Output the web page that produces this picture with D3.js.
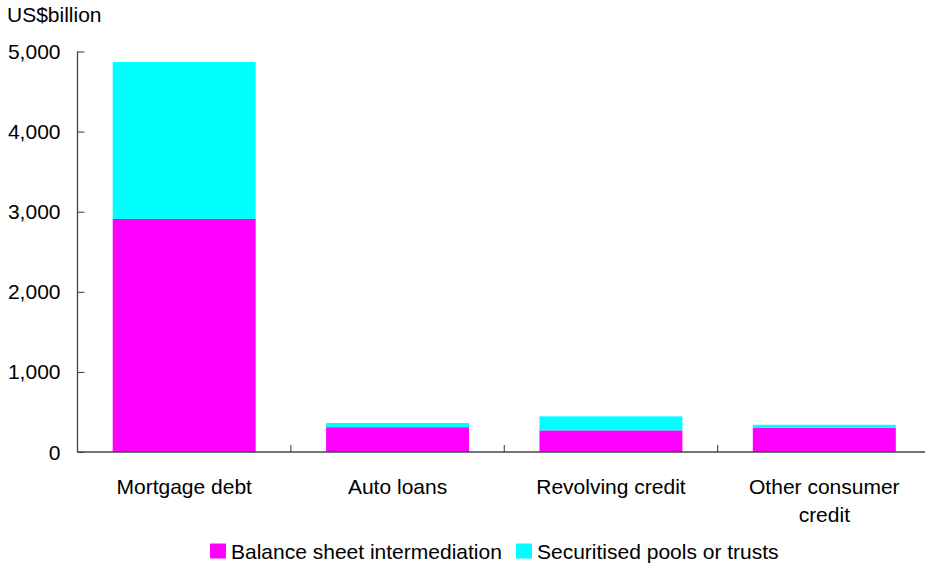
<!DOCTYPE html>
<html>
<head>
<meta charset="utf-8">
<script src="https://cdn.jsdelivr.net/npm/d3@7"></script>
<style>
  body { margin: 0; background: #fff; }
  text { font-family: "Liberation Sans", Arial, sans-serif; fill: #000; }
</style>
</head>
<body>
<svg id="chart"></svg>
<script>
// Data
const categories = [['Mortgage debt'], ['Auto loans'], ['Revolving credit'], ['Other consumer', 'credit']];
const balanceSheet = [2910, 310, 270, 305];
const securitised = [1960, 52, 175, 35];
const seriesNames = ['Balance sheet intermediation', 'Securitised pools or trusts'];
const seriesColors = ['#ff00ff', '#00ffff'];
const yTicks = [0, 1000, 2000, 3000, 4000, 5000];

const width = 925, height = 564;
const margin = { top: 51.5, right: -6, bottom: 112, left: 77.5 };
const innerW = width - margin.left - margin.right;
const innerH = height - margin.top - margin.bottom;
const fontSize = 21;

const svg = d3.select('#chart')
    .attr('width', width)
    .attr('height', height);

const chart = svg.append('g')
    .attr('transform', `translate(${margin.left},${margin.top})`);

// Scales
const x = d3.scaleBand()
    .domain(d3.range(categories.length))
    .range([0, innerW])
    .paddingInner(0.33)
    .paddingOuter(0.165);

const y = d3.scaleLinear()
    .domain([0, 5000])
    .range([innerH, 0]);

// Stack the series
const rows = categories.map((c, i) => ({ i: i, s0: balanceSheet[i], s1: securitised[i] }));
const stacked = d3.stack().keys(['s0', 's1'])(rows);

chart.selectAll('.series')
    .data(stacked)
  .join('g')
    .attr('class', 'series')
    .attr('fill', (d, i) => seriesColors[i])
  .selectAll('rect')
    .data(d => d)
  .join('rect')
    .attr('x', d => x(d.data.i))
    .attr('y', d => y(d[1]))
    .attr('width', x.bandwidth())
    .attr('height', d => y(d[0]) - y(d[1]));

// Y axis
const yAxis = d3.axisRight(y)
    .tickValues(yTicks)
    .tickSize(7)
    .tickFormat('');

chart.append('g')
    .call(yAxis)
    .call(g => g.select('.domain').remove())
    .call(g => g.selectAll('line').attr('stroke', '#333'));

chart.append('line')
    .attr('x1', 0).attr('x2', 0)
    .attr('y1', 0).attr('y2', innerH)
    .attr('stroke', '#444')
    .attr('stroke-width', 1.3);

chart.selectAll('.ylabel')
    .data(yTicks)
  .join('text')
    .attr('class', 'ylabel')
    .attr('x', -17)
    .attr('y', d => y(d))
    .attr('dy', '0.36em')
    .attr('text-anchor', 'end')
    .attr('font-size', fontSize)
    .text(d => d3.format(',')(d));

// X axis with ticks at band boundaries
const boundaries = d3.range(1, categories.length).map(i => x(i) - x.step() * x.paddingInner() / 2);

chart.append('line')
    .attr('x1', 0).attr('x2', innerW)
    .attr('y1', innerH).attr('y2', innerH)
    .attr('stroke', '#444')
    .attr('stroke-width', 1.3);

chart.selectAll('.xtick')
    .data(boundaries)
  .join('line')
    .attr('class', 'xtick')
    .attr('x1', d => d).attr('x2', d => d)
    .attr('y1', innerH).attr('y2', innerH - 7)
    .attr('stroke', '#333');

chart.selectAll('.xlabel')
    .data(categories)
  .join('text')
    .attr('class', 'xlabel')
    .attr('x', (d, i) => x(i) + x.bandwidth() / 2)
    .attr('y', innerH + 42)
    .attr('text-anchor', 'middle')
    .attr('font-size', fontSize)
  .selectAll('tspan')
    .data(d => d)
  .join('tspan')
    .attr('x', function() { return this.parentNode.getAttribute('x'); })
    .attr('dy', (d, i) => i === 0 ? 0 : 28)
    .text(d => d);

// Unit label
svg.append('text')
    .attr('x', 7)
    .attr('y', 22)
    .attr('font-size', fontSize)
    .text('US$billion');

// Legend
const legend = svg.append('g')
    .attr('transform', 'translate(210,551)');

const legendX = [0, 306];
const items = legend.selectAll('.item')
    .data(seriesNames)
  .join('g')
    .attr('class', 'item')
    .attr('transform', (d, i) => `translate(${legendX[i]},0)`);

items.append('rect')
    .attr('x', 0)
    .attr('y', -7.5)
    .attr('width', 16)
    .attr('height', 15)
    .attr('fill', (d, i) => seriesColors[i]);

items.append('text')
    .attr('x', 21)
    .attr('dy', '0.36em')
    .attr('font-size', fontSize)
    .text(d => d);
</script>
</body>
</html>
